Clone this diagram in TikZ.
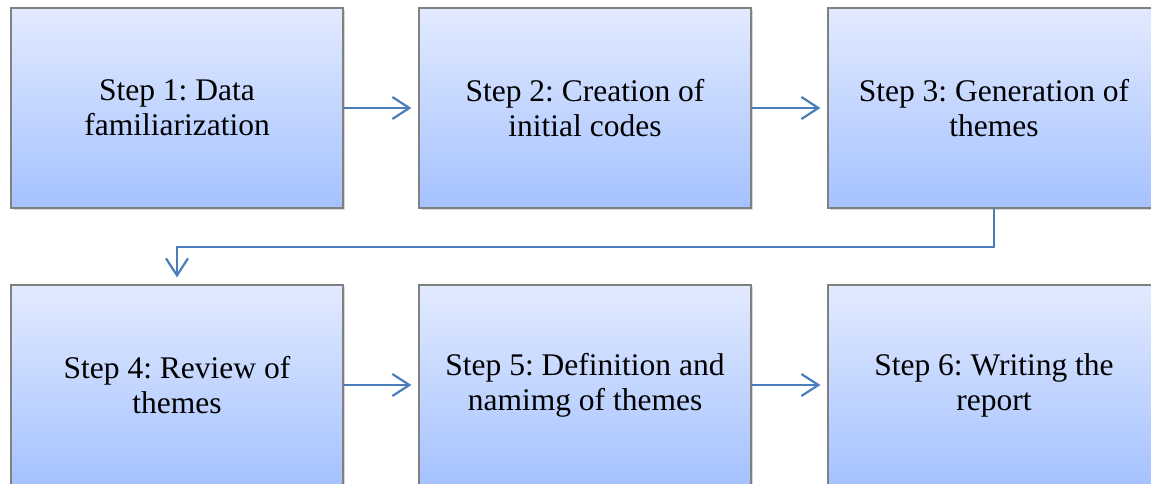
\documentclass[tikz,border=0pt]{standalone}
\usepackage{fontspec}
\setmainfont{Liberation Serif}
\usetikzlibrary{arrows.meta,shadows}

\definecolor{boxtop}{HTML}{E2EAFF}
\definecolor{boxbot}{HTML}{A5C2FF}
\definecolor{linkblue}{HTML}{4A7EBB}

\begin{document}
\frenchspacing
\begin{tikzpicture}
  [x=1pt,y=-1pt,
   stepbox/.style={rectangle,draw=black!50,line width=1.2pt,
     top color=boxtop,bottom color=boxbot,
     drop shadow={shadow xshift=1.5pt,shadow yshift=-2pt,opacity=.3},
     minimum width=332pt,minimum height=200pt,align=center,
     font=\fontsize{31.5}{35}\selectfont}]
  \clip (0,0) rectangle (1151,484);
  \fill[white] (0,0) rectangle (1151,484);

  \node[stepbox] (s1) at (177,108) {Step 1: Data\\familiarization};
  \node[stepbox] (s2) at (585,108) {Step 2: Creation of\\initial codes};
  \node[stepbox] (s3) at (994,108) {Step 3: Generation of\\themes};
  \node[stepbox] (s4) at (177,385) {Step 4: Review of\\themes};
  \node[stepbox] (s5) at (585,385) {Step 5: Definition and\\namimg of themes};
  \node[stepbox] (s6) at (994,385) {Step 6: Writing the\\report};

  \begin{scope}[linkblue, line width=2.2pt, shorten >=7pt,
      -{Straight Barb[length=17pt,width=22pt,line width=2.2pt]}]
  \foreach \from/\to in {s1/s2,s2/s3,s4/s5,s5/s6}
    \draw (\from) -- (\to);
  \draw (s3.south) -- ++(0,38) -| (s4.north);
  \end{scope}
\end{tikzpicture}
\end{document}
